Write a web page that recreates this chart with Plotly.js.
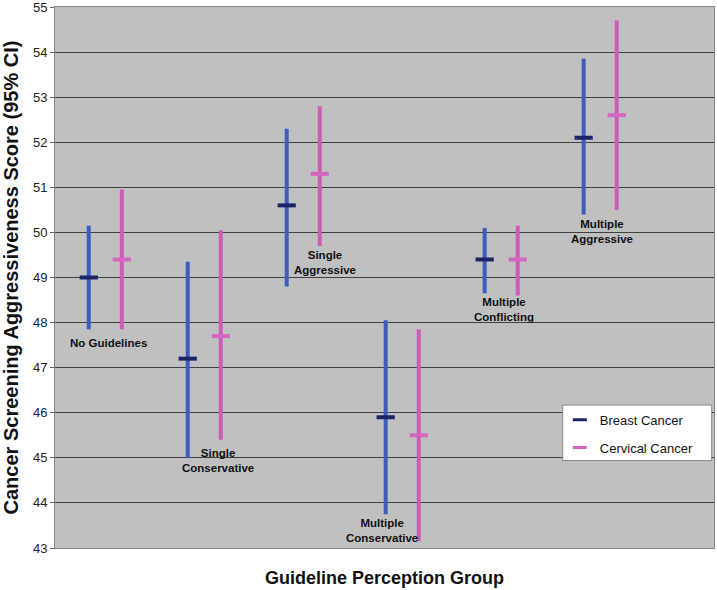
<!DOCTYPE html>
<html>
<head>
<meta charset="utf-8">
<script src="https://cdn.plot.ly/plotly-3.0.1.min.js"></script>
<style>html,body{margin:0;padding:0;background:#fff;}#chart{width:717px;height:590px;}</style>
</head>
<body>
<div id="chart"></div>
<script>
// Data
var groups = ["No Guidelines", "Single Conservative", "Single Aggressive", "Multiple Conservative", "Multiple Conflicting", "Multiple Aggressive"];
var groupLabels = ["No Guidelines", "Single<br>Conservative", "Single<br>Aggressive", "Multiple<br>Conservative", "Multiple<br>Conflicting", "Multiple<br>Aggressive"];
var breastMean = [49.0, 47.2, 50.6, 45.9, 49.4, 52.1];
var breastLow  = [47.85, 45.0, 48.8, 43.75, 48.65, 50.4];
var breastHigh = [50.15, 49.35, 52.3, 48.05, 50.1, 53.85];
var cervMean = [49.4, 47.7, 51.3, 45.5, 49.4, 52.6];
var cervLow  = [47.85, 45.4, 49.7, 43.15, 48.6, 50.5];
var cervHigh = [50.95, 50.05, 52.8, 47.85, 50.15, 54.7];
var yTicks = [43, 44, 45, 46, 47, 48, 49, 50, 51, 52, 53, 54, 55];

var idx = groups.map(function(_, i){ return i; });
var off = 0.167;
function plus(h, m){ return h.map(function(v, i){ return +(v - m[i]).toFixed(3); }); }
function minus(l, m){ return l.map(function(v, i){ return +(m[i] - v).toFixed(3); }); }

var blue = '#3d5cc0', navy = '#1c2468', pink = '#cc5cb8', pinkDash = '#d466c0';

var traces = [
  {
    type: 'scatter', mode: 'markers', name: 'Breast Cancer', showlegend: false,
    x: idx.map(function(i){ return i - off; }), y: breastMean, text: groups,
    marker: {symbol: 'line-ew', size: 13, color: navy, line: {color: navy, width: 4}},
    error_y: {type: 'data', symmetric: false, array: plus(breastHigh, breastMean), arrayminus: minus(breastLow, breastMean), color: blue, thickness: 4, width: 0}
  },
  {
    type: 'scatter', mode: 'markers', name: 'Cervical Cancer', showlegend: false,
    x: idx.map(function(i){ return i + off; }), y: cervMean, text: groups,
    marker: {symbol: 'line-ew', size: 13, color: pinkDash, line: {color: pinkDash, width: 4}},
    error_y: {type: 'data', symmetric: false, array: plus(cervHigh, cervMean), arrayminus: minus(cervLow, cervMean), color: pink, thickness: 4, width: 0}
  },
  {
    type: 'scatter', mode: 'markers', name: 'Breast Cancer', legendgroup: 'b',
    x: [null], y: [null],
    marker: {symbol: 'line-ew', size: 10, color: navy, line: {color: navy, width: 3}}
  },
  {
    type: 'scatter', mode: 'markers', name: 'Cervical Cancer', legendgroup: 'c',
    x: [null], y: [null],
    marker: {symbol: 'line-ew', size: 10, color: pinkDash, line: {color: pinkDash, width: 3}}
  }
];

var labelPos = [[0.03, 47.55], [1.14, 44.94], [2.22, 49.33], [2.80, 43.38], [4.03, 48.28], [5.02, 50.03]];
var annotations = groupLabels.map(function(t, i){
  return {
    text: '<b>' + t.replace('<br>', '</b><br><b>') + '</b>', xref: 'x', yref: 'y', x: labelPos[i][0], y: labelPos[i][1],
    showarrow: false, xanchor: 'center', yanchor: 'middle', align: 'center',
    font: {family: 'Arial, Liberation Sans, sans-serif', size: 11.5, color: '#111'}
  };
});

var layout = {
  width: 717, height: 590,
  margin: {l: 55, r: 3, t: 7, b: 42},
  paper_bgcolor: '#ffffff',
  plot_bgcolor: '#c0c0c0',
  font: {family: 'Arial, Liberation Sans, sans-serif', color: '#222'},
  xaxis: {
    range: [-0.508, 6.15], showgrid: false, zeroline: false, showticklabels: false, ticks: '',
    showline: true, linecolor: '#858585', linewidth: 1, mirror: true, fixedrange: true,
    title: {text: '<b>Guideline Perception Group</b>', font: {size: 18, color: '#111'}, standoff: 23}
  },
  yaxis: {
    range: [43, 55], tickvals: yTicks, ticktext: yTicks.map(String),
    showgrid: true, gridcolor: '#404040', gridwidth: 1, zeroline: false,
    showline: true, linecolor: '#858585', linewidth: 1, mirror: true,
    ticks: 'outside', ticklen: 4, tickcolor: '#666', tickfont: {size: 13, color: '#222'},
    ticklabeloverflow: 'allow',
    fixedrange: true,
    title: {text: '<b>Cancer Screening Aggressiveness Score (95% CI)</b>', font: {size: 20, color: '#111'}, standoff: 8}
  },
  shapes: [
    {type: 'rect', xref: 'paper', yref: 'paper', x0: 0.7704, x1: 0.9965, y0: 0.1616, y1: 0.2642,
     fillcolor: '#ffffff', line: {color: '#888', width: 1}, layer: 'above'}
  ],
  legend: {
    x: 0.766, y: 0.2648, xanchor: 'left', yanchor: 'top',
    bgcolor: 'rgba(0,0,0,0)', borderwidth: 0,
    font: {size: 13, color: '#111'}, tracegroupgap: 8, traceorder: 'grouped'
  },
  annotations: annotations,
  showlegend: true
};

Plotly.newPlot('chart', traces, layout, {displayModeBar: false, staticPlot: true});
</script>
</body>
</html>
